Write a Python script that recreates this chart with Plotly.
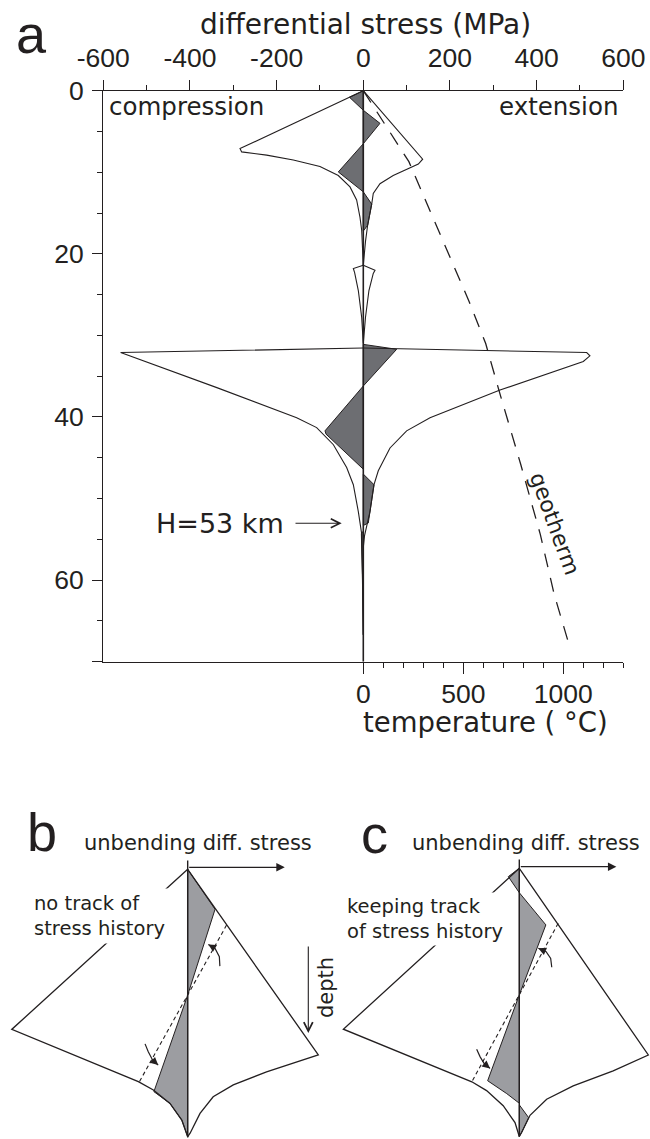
import plotly.graph_objects as go

W, H = 650, 1139
def px(x): return x / W
def py(y): return 1 - y / H

# ---------------- panel a : data (stress in MPa, depth in km) ----------------
env1_left_s = [0, -32, -284.5, -280.7, -223, -161.5, -100, -57.7, -30.7, -15.4, -7.7, -3.7, -1.5, 0]
env1_left_d = [0, 0.8, 7.1, 7.5, 7.9, 8.5, 9.3, 10.4, 11.8, 13.4, 15.5, 17.1, 19.0, 21.4]
env1_right_s = [0, 137, 127, 69, 38.5, 23, 19.4, 10, 5, 2, 0]
env1_right_d = [0, 8.4, 9.0, 10.4, 11.4, 12.6, 13.9, 16.5, 18.5, 20.0, 21.4]
env2_s = [0, -23, -20, -11.5, -3.7, 0, 5, 13, 23, 27, 0]
env2_d = [21.4, 21.8, 22.3, 24.5, 27.8, 31.0, 27.8, 24.5, 22.4, 22.0, 21.4]
env3_left_s = [0, -560, -338, -153.7, -107.6, -69, -38.4, -23, -11.5, -6, -3.8, -1.5, 0]
env3_left_d = [31.55, 32.1, 36.4, 40.1, 41.3, 43.4, 46.2, 48.3, 51.6, 53.6, 54.3, 60, 66.7]
env3_right_s = [0, 515.5, 523, 507.7, 315.5, 154, 100, 61.6, 34.6, 24.7, 15.4, 7.8, 3, 0]
env3_right_d = [31.55, 32.1, 32.5, 33.2, 36.7, 40.1, 41.7, 43.8, 46.6, 48.3, 51.6, 53.6, 54.5, 56]

grey_a = [
    ([0, -32, 0], [0, 0.8, 2.4]),
    ([0, 38.5, 0], [2.4, 4.0, 6.5]),
    ([0, -57.7, 0], [6.5, 9.96, 12.4]),
    ([0, 19.4, 10, 0], [12.4, 13.9, 16.5, 17.2]),
    ([0, 77, 0], [31.1, 31.7, 36.2]),
    ([0, -88.4, -86, 0], [36.2, 41.7, 42.1, 46.4]),
    ([0, 24.7, 11.5, 0], [47.0, 48.3, 53.0, 53.3]),
    ([0, -4.5, -2, 0], [54.0, 54.3, 60, 66.7]),
]

geo_depth = [0, 4, 8.7, 14.8, 20, 25.9, 31, 36.8, 45.8, 54.4, 61.8, 68]
geo_temp = [0, 105, 228, 335, 427, 530, 612, 679, 787, 885, 955, 1030]

stress_ticks = [-600, -400, -200, 0, 200, 400, 600]
stress_ticktext = ['-600', '-400', '-200', '0', '200', '400', '600']
stress_minor = [-500, -300, -100, 100, 300, 500]
depth_ticks = [0, 20, 40, 60, 70]
depth_ticktext = ['0', '20', '40', '60', '']
depth_minor = [5, 10, 15, 25, 30, 35, 45, 50, 55, 65]
depth_all = list(range(0, 75, 5))
temp_ticks = [0, 500, 1000]
temp_minor = [100, 200, 300, 400, 600, 700, 800, 900, 1100, 1200, 1300]

# ---------------- panels b and c : schematic (normalised units) ----------------
b_env_s = [0, 0.487, 0.294, 0.170, 0.095, 0.046, 0.009, 0, -0.022, -0.066, -0.128, -0.184, -0.656, 0]
b_env_d = [0, 0.692, 0.755, 0.804, 0.848, 0.910, 0.984, 0.997, 0.935, 0.873, 0.823, 0.792, 0.597, 0]
b_grey = [
    ([0, 0.102, 0], [0, 0.149, 0.469]),
    ([0, -0.126, -0.066, -0.022, 0], [0.469, 0.829, 0.873, 0.935, 0.997]),
]
b_dash_s = [0.145, -0.180]
b_dash_d = [0.208, 0.792]
b_arc1_s = [0.120, 0.118, 0.102, 0.077]
b_arc1_d = [0.361, 0.326, 0.295, 0.280]
b_arc2_s = [-0.159, -0.147, -0.131, -0.110]
b_arc2_d = [0.651, 0.680, 0.711, 0.730]

c_env_s = [0, 0.481, 0.35, 0.201, 0.102, 0.040, 0.009, 0, -0.016, -0.060, -0.122, -0.177, -0.656, 0]
c_env_d = [0, 0.696, 0.755, 0.811, 0.861, 0.921, 0.984, 1.0, 0.948, 0.885, 0.829, 0.796, 0.600, 0]
c_grey = [
    ([0, -0.041, 0], [0, 0.031, 0.091]),
    ([0, 0.099, 0], [0.091, 0.211, 0.472]),
    ([0, -0.118, -0.047, 0], [0.472, 0.792, 0.840, 0.876]),
    ([0, 0.035, 0.009, 0], [0.882, 0.930, 0.984, 1.0]),
]
c_dash_s = [0.145, -0.177]
c_dash_d = [0.205, 0.796]
c_arc1_s = [0.121, 0.117, 0.100, 0.071]
c_arc1_d = [0.369, 0.336, 0.311, 0.298]
c_arc2_s = [-0.159, -0.146, -0.131, -0.109]
c_arc2_d = [0.675, 0.703, 0.728, 0.746]
axis_line_d = [-0.033, 1.0]

INK = '#231f20'
GREY_A = '#6d6e72'
GREY_B = '#9c9da1'
TXT = 'DejaVu Sans'
NUM = 'Liberation Sans'

fig = go.Figure()

def line(xs, ys, xa, ya, width=1.1, dash=None, color=INK):
    fig.add_trace(go.Scatter(x=xs, y=ys, xaxis=xa, yaxis=ya, mode='lines',
                             line=dict(color=color, width=width, dash=dash),
                             hoverinfo='skip'))

def poly(xs, ys, xa, ya, fill):
    fig.add_trace(go.Scatter(x=xs + [xs[0]], y=ys + [ys[0]], xaxis=xa, yaxis=ya,
                             mode='lines', fill='toself', fillcolor=fill,
                             line=dict(color=INK, width=1), hoverinfo='skip'))

# panel a
for s, d in grey_a:
    poly(s, d, 'x', 'y', GREY_A)
line(env1_left_s, env1_left_d, 'x', 'y')
line(env1_right_s, env1_right_d, 'x', 'y')
line(env2_s, env2_d, 'x', 'y')
line(env3_left_s, env3_left_d, 'x', 'y')
line(env3_right_s, env3_right_d, 'x', 'y')
line([0, 0], [0, 70], 'x', 'y', width=1.6)
line(geo_temp, geo_depth, 'x2', 'y', width=1.3, dash='14px,11px')

# panel b
for s, d in b_grey:
    poly(s, d, 'x3', 'y3', GREY_B)
line(b_env_s, b_env_d, 'x3', 'y3', width=1.3)
line([0, 0], axis_line_d, 'x3', 'y3', width=1.4)
line(b_dash_s, b_dash_d, 'x3', 'y3', width=1.1, dash='4px,3px')
line(b_arc1_s, b_arc1_d, 'x3', 'y3', width=1.2)
line(b_arc2_s, b_arc2_d, 'x3', 'y3', width=1.2)

# panel c
for s, d in c_grey:
    poly(s, d, 'x4', 'y4', GREY_B)
line(c_env_s, c_env_d, 'x4', 'y4', width=1.3)
line([0, 0], axis_line_d, 'x4', 'y4', width=1.4)
line(c_dash_s, c_dash_d, 'x4', 'y4', width=1.1, dash='4px,3px')
line(c_arc1_s, c_arc1_d, 'x4', 'y4', width=1.2)
line(c_arc2_s, c_arc2_d, 'x4', 'y4', width=1.2)

tickfont = dict(family=NUM, size=26.5, color=INK)
common = dict(showgrid=False, zeroline=False, showline=True, linecolor=INK, linewidth=1.3,
              ticks='outside', tickcolor=INK, tickwidth=1.2, automargin=False)

fig.update_layout(
    width=W, height=H, margin=dict(l=0, r=0, t=0, b=0, pad=0, autoexpand=False),
    paper_bgcolor='white', plot_bgcolor='rgba(0,0,0,0)', showlegend=False,
    xaxis=dict(domain=[px(103.3), px(623.3)], range=[-600, 600], side='top', anchor='y',
               tickmode='array', tickvals=stress_ticks, ticktext=stress_ticktext, ticklen=10,
               tickfont=tickfont, ticklabelstandoff=2,
               minor=dict(tickmode='array', tickvals=stress_minor, ticklen=5, ticks='outside',
                          tickcolor=INK, showgrid=False), **common),
    yaxis=dict(domain=[py(661.7), py(90.7)], range=[70, 0], anchor='x',
               tickmode='array', tickvals=depth_ticks, ticktext=depth_ticktext, ticklen=10,
               tickfont=tickfont, ticklabelstandoff=3,
               minor=dict(tickmode='array', tickvals=depth_minor, ticklen=5, ticks='outside',
                          tickcolor=INK, showgrid=False), **common),
    xaxis2=dict(overlaying='x', range=[-1300, 1300], side='bottom', anchor='y',
                tickmode='array', tickvals=temp_ticks, ticklen=11, tickfont=tickfont,
                ticklabelstandoff=-3,
                minor=dict(tickmode='array', tickvals=temp_minor, ticklen=5, ticks='outside',
                           tickcolor=INK, showgrid=False), **common),
    yaxis2=dict(overlaying='y', range=[70, 0], side='right', anchor='x',
                tickmode='array', tickvals=depth_all, ticklen=6, showticklabels=False, **common),
    xaxis3=dict(domain=[0, px(330)], range=[-0.6998, 0.5306], anchor='y3', visible=False, automargin=False),
    yaxis3=dict(domain=[0, py(840)], range=[1.0056, -0.1092], anchor='x3', visible=False, automargin=False),
    xaxis4=dict(domain=[px(330), 1], range=[-0.7058, 0.4873], anchor='y4', visible=False, automargin=False),
    yaxis4=dict(domain=[0, py(840)], range=[1.0093, -0.1055], anchor='x4', visible=False, automargin=False),
)

ann = []
def text(t, x, y, size, family=TXT, xanchor='center', yanchor='middle', angle=0, **kw):
    ann.append(dict(text=t, x=px(x), y=py(y), xref='paper', yref='paper', showarrow=False,
                    font=dict(family=family, size=size, color=INK), xanchor=xanchor,
                    yanchor=yanchor, textangle=angle, **kw))

text('a', 31, 34, 54, family=NUM)
text('differential stress (MPa)', 365, 24, 28)
text('compression', 107, 106, 24.5, xanchor='left')
text('extension', 620, 106, 24.5, xanchor='right')
text('H=53 km', 220, 523, 27)
text('geotherm', 555, 523, 22, angle=70)
text('temperature ( °C)', 485, 722, 27.5)

text('b', 42, 832, 54, family=NUM)
text('unbending diff. stress', 198, 843, 21)
text('no track of<br>stress history', 30, 916, 19.5, xanchor='left', align='left',
     bgcolor='white', borderpad=3)
text('depth', 326, 987, 21, angle=-90)

text('c', 375, 834, 54, family=NUM)
text('unbending diff. stress', 526, 843, 21)
text('keeping track<br>of stress history', 343.5, 919, 19.5, xanchor='left', align='left',
     bgcolor='white', borderpad=2)

# arrows (pixel offsets for the tails)
ann.append(dict(x=px(341.7), y=py(523.3), ax=-47.7, ay=0, xref='paper', yref='paper',
                axref='pixel', ayref='pixel', showarrow=True, arrowhead=5, arrowsize=1.6,
                arrowwidth=1.1, arrowcolor=INK, text=''))
ann.append(dict(x=px(308.3), y=py(1033), ax=0, ay=-88, xref='paper', yref='paper',
                axref='pixel', ayref='pixel', showarrow=True, arrowhead=5, arrowsize=1.6,
                arrowwidth=1.1, arrowcolor=INK, text=''))
for xa, ya, yv in (('x3', 'y3', -0.0075), ('x4', 'y4', -0.006)):
    ann.append(dict(x=0.362, y=yv, ax=0, ay=yv, xref=xa, yref=ya, axref=xa, ayref=ya,
                    showarrow=True, arrowhead=2, arrowsize=1.3, arrowwidth=1.3,
                    arrowcolor=INK, text=''))
for xa, ya, s, d in (('x3', 'y3', b_arc1_s, b_arc1_d), ('x3', 'y3', b_arc2_s, b_arc2_d),
                     ('x4', 'y4', c_arc1_s, c_arc1_d), ('x4', 'y4', c_arc2_s, c_arc2_d)):
    ann.append(dict(x=s[-1], y=d[-1], ax=s[-2], ay=d[-2], xref=xa, yref=ya, axref=xa, ayref=ya,
                    showarrow=True, arrowhead=2, arrowsize=1.2, arrowwidth=1.3,
                    arrowcolor=INK, text=''))
fig.update_layout(annotations=ann)

fig.write_html('out.html')
